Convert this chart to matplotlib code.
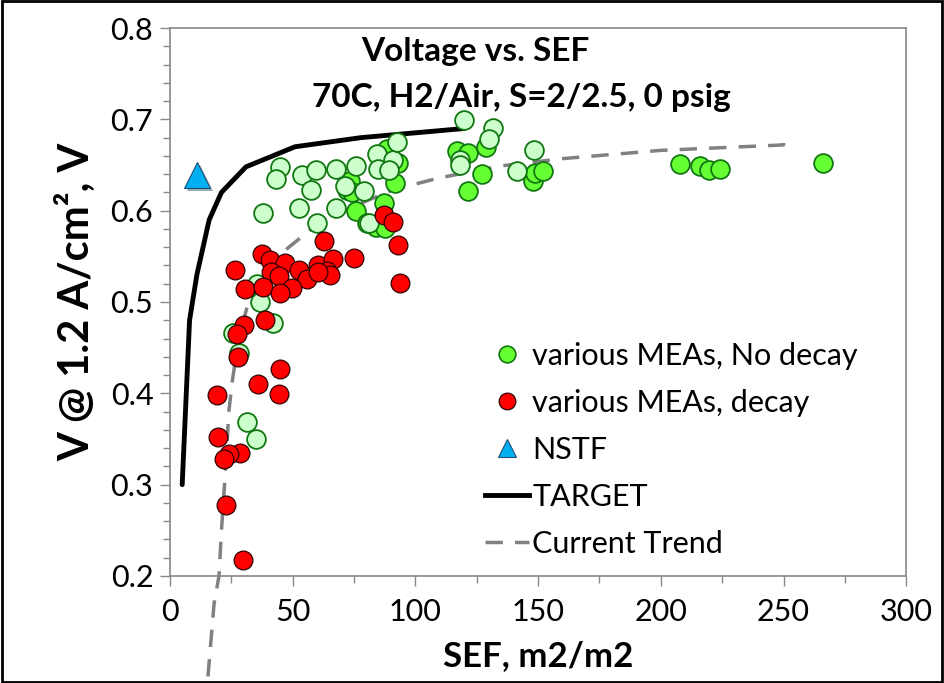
import matplotlib
matplotlib.use("Agg")
import matplotlib.pyplot as plt
import matplotlib.patheffects as pe
from matplotlib.lines import Line2D
from matplotlib.patches import Rectangle
import numpy as np

plt.rcParams['font.family'] = ['Lato', 'DejaVu Sans']

# ---- data ----
no_decay_x = [73.4, 72.0, 74.0, 76.0, 87.2, 80.2, 84.0, 87.6, 91.7, 93.1, 88.3,
              117.1, 121.6, 128.8, 127.0, 121.4, 147.9, 148.8, 151.9,
              207.9, 216.0, 219.5, 224.0, 266.0]
no_decay_y = [0.632, 0.623, 0.620, 0.600, 0.608, 0.586, 0.582, 0.581, 0.630, 0.652, 0.667,
              0.665, 0.663, 0.670, 0.640, 0.622, 0.633, 0.641, 0.643,
              0.651, 0.649, 0.644, 0.646, 0.652]

pale_x = [44.8, 43.2, 53.7, 59.5, 67.7, 75.8, 57.3, 71.3, 79.1, 84.5, 84.9, 91.0, 89.4, 92.7,
          37.8, 52.7, 67.7, 60.0, 81.2, 119.9, 118.0, 118.2, 131.5, 130.2, 141.3, 148.4,
          35.3, 36.7, 41.9, 25.6, 28.1, 31.3, 34.9]
pale_y = [0.648, 0.635, 0.639, 0.644, 0.646, 0.649, 0.623, 0.627, 0.621, 0.662, 0.646, 0.656, 0.644, 0.675,
          0.597, 0.603, 0.603, 0.587, 0.587, 0.699, 0.656, 0.650, 0.691, 0.679, 0.643, 0.666,
          0.520, 0.500, 0.477, 0.466, 0.444, 0.369, 0.350]

decay_x = [62.9, 93.1, 93.8, 26.5, 37.4, 40.8, 46.9, 41.0, 44.6, 52.7, 56.0, 60.5, 66.6, 75.0,
           63.9, 65.2, 60.5, 30.6, 38.0, 49.6, 44.8, 38.7, 30.2, 27.2, 27.7, 87.4, 91.0,
           44.8, 36.0, 44.6, 19.0, 19.7, 28.5, 24.2, 22.1, 22.8, 29.9]
decay_y = [0.567, 0.562, 0.521, 0.535, 0.553, 0.546, 0.543, 0.533, 0.528, 0.535, 0.525, 0.541, 0.547, 0.548,
           0.534, 0.530, 0.533, 0.514, 0.516, 0.515, 0.510, 0.480, 0.475, 0.465, 0.440, 0.595, 0.588,
           0.427, 0.410, 0.399, 0.398, 0.352, 0.335, 0.334, 0.328, 0.278, 0.218]

nstf_x = [11.0]
nstf_y = [0.639]

target_x = [5, 8, 11, 16, 21, 31, 51, 78, 120]
target_y = [0.30, 0.48, 0.53, 0.59, 0.62, 0.648, 0.67, 0.68, 0.69]

trend_x = [15.5, 18, 20, 21, 22.5, 24, 25.5, 28, 32, 38, 48, 60, 75, 91, 110, 135, 160, 200, 250, 250]
trend_y = [0.09, 0.17, 0.20, 0.25, 0.31, 0.38, 0.415, 0.46, 0.50, 0.53, 0.559, 0.585, 0.605, 0.623,
           0.636, 0.649, 0.657, 0.666, 0.672, 0.680]

x_ticks = [0, 50, 100, 150, 200, 250, 300]
y_ticks = [0.2, 0.3, 0.4, 0.5, 0.6, 0.7, 0.8]

# ---- figure ----
fig = plt.figure(figsize=(9.44, 6.83), dpi=100)
ax = fig.add_axes([0.180, 0.1567, 0.780, 0.8023])

ms = 13.5
ax.plot(trend_x, trend_y, color='#808080', lw=2.5, dashes=(5, 3.5), clip_on=False, zorder=2)
ax.plot(target_x, target_y, color='black', lw=3.5, solid_capstyle='round', zorder=2)

ax.plot(no_decay_x, no_decay_y, 'o', ms=ms, mfc='#66ff33', mec='#117711', mew=1.3, zorder=3)
ax.plot(pale_x, pale_y, 'o', ms=ms, mfc='#ccffcc', mec='#117711', mew=1.3, zorder=4)
ax.plot(decay_x, decay_y, 'o', ms=ms, mfc='#ff0000', mec='#300000', mew=0.9, zorder=5)
ax.plot(nstf_x, nstf_y, '^', ms=19, mfc='#00b0f0', mec='#1f4e79', mew=0.8, zorder=6,
        path_effects=[pe.SimplePatchShadow(offset=(2, -2), alpha=0.4), pe.Normal()])

ax.set_xlim(0, 300)
ax.set_ylim(0.2, 0.8)
ax.set_xticks(x_ticks)
ax.set_yticks(y_ticks)
ax.set_xticklabels([str(v) for v in x_ticks], fontsize=22)
ax.set_yticklabels([f"{v:.1f}" for v in y_ticks], fontsize=22)
ax.set_xticks(np.arange(0, 301, 25), minor=True)
ax.set_yticks(np.arange(0.2, 0.801, 0.02), minor=True)
ax.tick_params(axis='both', which='major', direction='out', length=7, width=1, color='#888888', pad=5)
ax.tick_params(axis='both', which='minor', direction='out', length=5, width=1, color='#888888')
ax.tick_params(axis='x', which='major', pad=9)
for s in ax.spines.values():
    s.set_color('#888888')
    s.set_linewidth(1.2)

ax.set_xlabel('SEF, m2/m2', fontsize=25, fontweight='bold', labelpad=10)
ax.set_ylabel('V @ 1.2 A/cm², V', fontsize=30, fontweight='bold', labelpad=10)

ax.text(0.415, 0.958, 'Voltage vs. SEF', transform=ax.transAxes, ha='center', va='center',
        fontsize=24, fontweight='bold')
ax.text(0.477, 0.873, '70C, H2/Air, S=2/2.5, 0 psig', transform=ax.transAxes, ha='center', va='center',
        fontsize=24, fontweight='bold')

handles = [
    Line2D([], [], ls='none', marker='o', ms=12, mfc='#66ff33', mec='#117711', mew=1.2),
    Line2D([], [], ls='none', marker='o', ms=12, mfc='#ff0000', mec='#300000', mew=0.9),
    Line2D([], [], ls='none', marker='^', ms=13, mfc='#00b0f0', mec='#1f4e79', mew=0.8),
    Line2D([], [], color='black', lw=3.5),
    Line2D([], [], color='#808080', lw=2.5, dashes=(5, 3.5)),
]
labels = ['various MEAs, No decay', 'various MEAs, decay', 'NSTF', 'TARGET', 'Current Trend']
ax.legend(handles, labels, loc='upper left', bbox_to_anchor=(0.428, 0.427), frameon=False,
          fontsize=22, handlelength=1.45, handletextpad=0.1, labelspacing=0.62,
          borderaxespad=0, borderpad=0)

fig.add_artist(Rectangle((0.002, 0.002), 0.996, 0.996, transform=fig.transFigure,
                         fill=False, edgecolor='black', lw=2))

fig.savefig('out.png', dpi=100)
